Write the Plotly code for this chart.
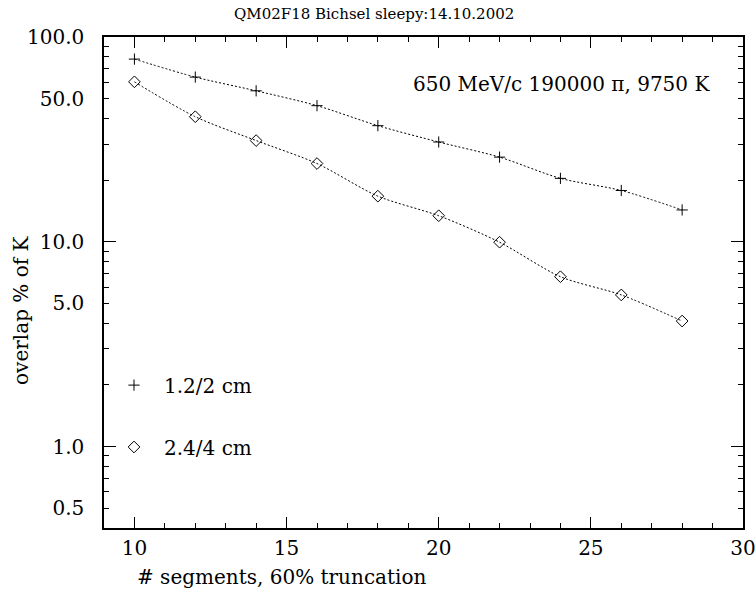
import plotly.graph_objects as go
import numpy as np

segments = [10, 12, 14, 16, 18, 20, 22, 24, 26, 28]
overlap_12_2cm = [78.0, 63.7, 54.6, 46.2, 36.9, 30.7, 25.9, 20.4, 17.8, 14.3]
overlap_24_4cm = [60.4, 40.8, 31.2, 24.1, 16.7, 13.4, 9.95, 6.75, 5.5, 4.1]

series_names = ["1.2/2 cm", "2.4/4 cm"]
y_major_labelled = [0.5, 1, 5, 10, 50, 100]
y_major_text = ["0.5", "1.0", "5.0", "10.0", "50.0", "100.0"]
y_long = [1, 10, 100]
y_minor = [0.6, 0.7, 0.8, 0.9, 2, 3, 4, 6, 7, 8, 9, 20, 30, 40, 60, 70, 80, 90]
x_major = [10, 15, 20, 25, 30]
x_minor = [9, 11, 12, 13, 14, 16, 17, 18, 19, 21, 22, 23, 24, 26, 27, 28, 29]

FONT = "DejaVu Serif"
FS = 20

fig = go.Figure()

line_style = dict(color="black", width=1, dash="2px,2px", shape="spline", smoothing=0.8)

fig.add_trace(go.Scatter(
    x=segments, y=overlap_12_2cm, mode="lines+markers",
    line=line_style,
    marker=dict(symbol="cross-thin", size=8, line=dict(color="black", width=1), color="black"),
    showlegend=False))
fig.add_trace(go.Scatter(
    x=segments, y=overlap_24_4cm, mode="lines+markers",
    line=line_style,
    marker=dict(symbol="diamond-open", size=9, line=dict(color="black", width=1), color="black"),
    showlegend=False))

# legend keys (marker only)
fig.add_trace(go.Scatter(
    x=[None], y=[None], mode="markers", name=series_names[0],
    marker=dict(symbol="cross-thin", size=8, line=dict(color="black", width=1), color="black"),
    legend="legend"))
fig.add_trace(go.Scatter(
    x=[None], y=[None], mode="markers", name=series_names[1],
    marker=dict(symbol="diamond-open", size=9, line=dict(color="black", width=1), color="black"),
    legend="legend2"))

# overlay axis for long ticks at decades
fig.add_trace(go.Scatter(x=[None], y=[None], yaxis="y2", xaxis="x2", showlegend=False))

axis_common = dict(showgrid=False, zeroline=False, showline=True, linecolor="black",
                   linewidth=1.5, ticks="inside", tickcolor="black", tickwidth=1,
                   mirror="ticks", automargin=False)

fig.update_layout(
    width=756, height=591,
    margin=dict(l=104, r=13, t=37, b=63, autoexpand=False),
    paper_bgcolor="white", plot_bgcolor="white",
    font=dict(family=FONT, size=FS, color="black"),
    xaxis=dict(range=[9, 30], tickmode="array", tickvals=x_major,
               ticktext=[str(v) for v in x_major], ticklen=11,
               ticklabelstandoff=1,
               minor=dict(tickmode="array", tickvals=x_minor, ticklen=5,
                          ticks="inside", tickcolor="black", tickwidth=1),
               **axis_common),
    xaxis2=dict(range=[9, 30], overlaying="x", visible=False, automargin=False),
    yaxis=dict(type="log", range=[np.log10(0.4), 2], tickmode="array",
               tickvals=y_major_labelled, ticktext=y_major_text, ticklen=5,
               ticklabelstandoff=14,
               minor=dict(tickmode="array", tickvals=y_minor, ticklen=5,
                          ticks="inside", tickcolor="black", tickwidth=1),
               **axis_common),
    yaxis2=dict(type="log", range=[np.log10(0.4), 2], overlaying="y", side="left",
                tickmode="array", tickvals=y_long, ticklen=12, showticklabels=False,
                showgrid=False, zeroline=False, showline=False, ticks="inside",
                tickcolor="black", tickwidth=1, mirror="ticks", automargin=False),
    legend=dict(x=0.0, y=0.291, xanchor="left", yanchor="middle", itemwidth=50,
                bgcolor="rgba(0,0,0,0)", font=dict(family=FONT, size=FS)),
    legend2=dict(x=0.0, y=0.165, xanchor="left", yanchor="middle", itemwidth=50,
                 bgcolor="rgba(0,0,0,0)", font=dict(family=FONT, size=FS)),
    annotations=[
        dict(text="QM02F18 Bichsel sleepy:14.10.2002", xref="paper", yref="paper",
             x=0.4225, y=1.047, xanchor="center", yanchor="middle", showarrow=False,
             font=dict(family=FONT, size=15)),
        dict(text="650 MeV/c 190000 π, 9750 K", xref="paper", yref="paper",
             x=0.951, y=0.904, xanchor="right", yanchor="middle", showarrow=False,
             font=dict(family=FONT, size=FS)),
        dict(text="# segments, 60% truncation", xref="paper", yref="paper",
             x=0.277, y=-0.0998, xanchor="center", yanchor="middle", showarrow=False,
             font=dict(family=FONT, size=FS)),
        dict(text="overlap % of K", xref="paper", yref="paper", textangle=-90,
             x=-0.130, y=0.444, xanchor="center", yanchor="middle", showarrow=False,
             font=dict(family=FONT, size=FS)),
    ],
)

fig.write_html("out.html")
